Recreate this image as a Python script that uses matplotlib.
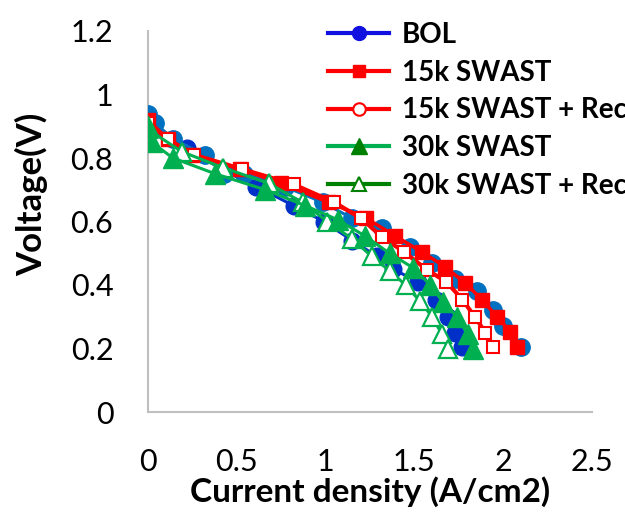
import matplotlib
matplotlib.use("Agg")
import matplotlib.pyplot as plt
from matplotlib.lines import Line2D

plt.rcParams['font.family'] = ['Lato', 'DejaVu Sans']

# Data (current density A/cm2, voltage V)
bol_i = [0.0, 0.04, 0.14, 0.32, 0.43, 0.54, 0.77, 0.985, 1.15, 1.32, 1.475, 1.60, 1.73, 1.85, 1.94, 2.00, 2.10]
bol_v = [0.94, 0.91, 0.86, 0.81, 0.75, 0.75, 0.71, 0.66, 0.61, 0.58, 0.52, 0.47, 0.42, 0.38, 0.32, 0.27, 0.205]

bol2_i = [0.0, 0.03, 0.22, 0.43, 0.61, 0.82, 0.99, 1.15, 1.29, 1.38, 1.52, 1.62, 1.69, 1.73, 1.77]
bol2_v = [0.92, 0.89, 0.83, 0.76, 0.71, 0.65, 0.60, 0.54, 0.49, 0.45, 0.41, 0.354, 0.30, 0.25, 0.205]

k15_i = [0.0, 0.11, 0.25, 0.52, 0.75, 1.02, 1.23, 1.39, 1.54, 1.67, 1.785, 1.88, 1.965, 2.04, 2.08]
k15_v = [0.92, 0.86, 0.81, 0.765, 0.72, 0.66, 0.61, 0.555, 0.505, 0.458, 0.407, 0.354, 0.30, 0.253, 0.205]

k15r_i = [0.0, 0.11, 0.26, 0.53, 0.82, 1.05, 1.20, 1.32, 1.44, 1.57, 1.68, 1.77, 1.84, 1.90, 1.94]
k15r_v = [0.91, 0.86, 0.81, 0.765, 0.717, 0.66, 0.61, 0.55, 0.505, 0.448, 0.41, 0.354, 0.30, 0.25, 0.205]

k30_i = [0.0, 0.02, 0.14, 0.38, 0.66, 0.885, 1.07, 1.22, 1.36, 1.49, 1.59, 1.66, 1.74, 1.80, 1.83]
k30_v = [0.90, 0.85, 0.80, 0.75, 0.70, 0.65, 0.605, 0.555, 0.50, 0.455, 0.40, 0.347, 0.30, 0.245, 0.20]

k30r_i = [0.0, 0.19, 0.42, 0.68, 0.87, 1.01, 1.15, 1.26, 1.36, 1.45, 1.53, 1.60, 1.655, 1.69]
k30r_v = [0.89, 0.82, 0.77, 0.72, 0.66, 0.60, 0.545, 0.49, 0.445, 0.40, 0.35, 0.30, 0.245, 0.20]

x_ticks = [0, 0.5, 1, 1.5, 2, 2.5]
x_labels = ['0', '0.5', '1', '1.5', '2', '2.5']
y_ticks = [0, 0.2, 0.4, 0.6, 0.8, 1.0, 1.2]
y_labels = ['0', '0.2', '0.4', '0.6', '0.8', '1', '1.2']

DARKBLUE = '#0030C8'
LIGHTBLUE = '#0070C0'
RED = '#FF0000'
GREEN = '#00B050'
DKGREEN = '#008000'

fig = plt.figure(figsize=(6.25, 5.12), dpi=100)
ax = fig.add_axes([148/625, 1-412/512, 444/625, 381/512])

ax.plot(bol2_i, bol2_v, color=DARKBLUE, lw=2.2, marker='o', ms=12,
        mfc=DARKBLUE, mec=DARKBLUE, zorder=2)
ax.plot(bol_i, bol_v, color=LIGHTBLUE, lw=2.2, marker='o', ms=12.5,
        mfc=LIGHTBLUE, mec=LIGHTBLUE, zorder=3)
ax.plot(k15_i, k15_v, color=RED, lw=2.5, marker='s', ms=9.5,
        mfc=RED, mec=RED, zorder=4)
ax.plot(k15r_i, k15r_v, color=RED, lw=3.0, marker='s', ms=9,
        mfc='white', mec=RED, mew=1.5, zorder=5)
ax.plot(k30_i, k30_v, color=GREEN, lw=2.2, marker='^', ms=14.5,
        mfc=GREEN, mec=GREEN, zorder=7)
ax.plot(k30r_i, k30r_v, color=GREEN, lw=2.2, marker='^', ms=12.5,
        mfc='white', mec=GREEN, mew=1.6, zorder=6)

ax.set_xlim(0, 2.5)
ax.set_ylim(0, 1.2)
ax.set_xticks(x_ticks)
ax.set_xticklabels(x_labels)
ax.set_yticks(y_ticks)
ax.set_yticklabels(y_labels)
ax.tick_params(length=0, labelsize=22)
ax.tick_params(axis='y', pad=25)
ax.tick_params(axis='x', pad=26)
for s in ['top', 'right']:
    ax.spines[s].set_visible(False)
for s in ['left', 'bottom']:
    ax.spines[s].set_color('#BFBFBF')
    ax.spines[s].set_linewidth(1.5)

ax.set_xlabel('Current density (A/cm2)', fontsize=24, fontweight='bold', labelpad=0)
ax.set_ylabel('Voltage(V)', fontsize=25, fontweight='bold')
ax.yaxis.set_label_coords((48 - 148) / 444, (412 - 194) / 381)

handles = [
    Line2D([], [], color='#1010E0', lw=3, marker='o', ms=10, mfc='#1010E0', mec='#1010E0'),
    Line2D([], [], color=RED, lw=3, marker='s', ms=9, mfc=RED, mec=RED),
    Line2D([], [], color=RED, lw=3, marker='o', ms=9, mfc='white', mec=RED, mew=1.5),
    Line2D([], [], color=GREEN, lw=3, marker='^', ms=11, mfc=DKGREEN, mec=DKGREEN),
    Line2D([], [], color=DKGREEN, lw=3, marker='^', ms=10, mfc='white', mec=DKGREEN, mew=1.5),
]
labels = ['BOL', '15k SWAST', '15k SWAST + Rec', '30k SWAST', '30k SWAST + Rec']
fig.legend(handles, labels, loc='upper left', bbox_to_anchor=(328/625, 1-22/512),
           frameon=False, prop={'weight': 'bold', 'size': 20},
           handlelength=2.2, handletextpad=0.45, labelspacing=0.42, borderaxespad=0,
           borderpad=0)

fig.savefig('out.png', dpi=100)
